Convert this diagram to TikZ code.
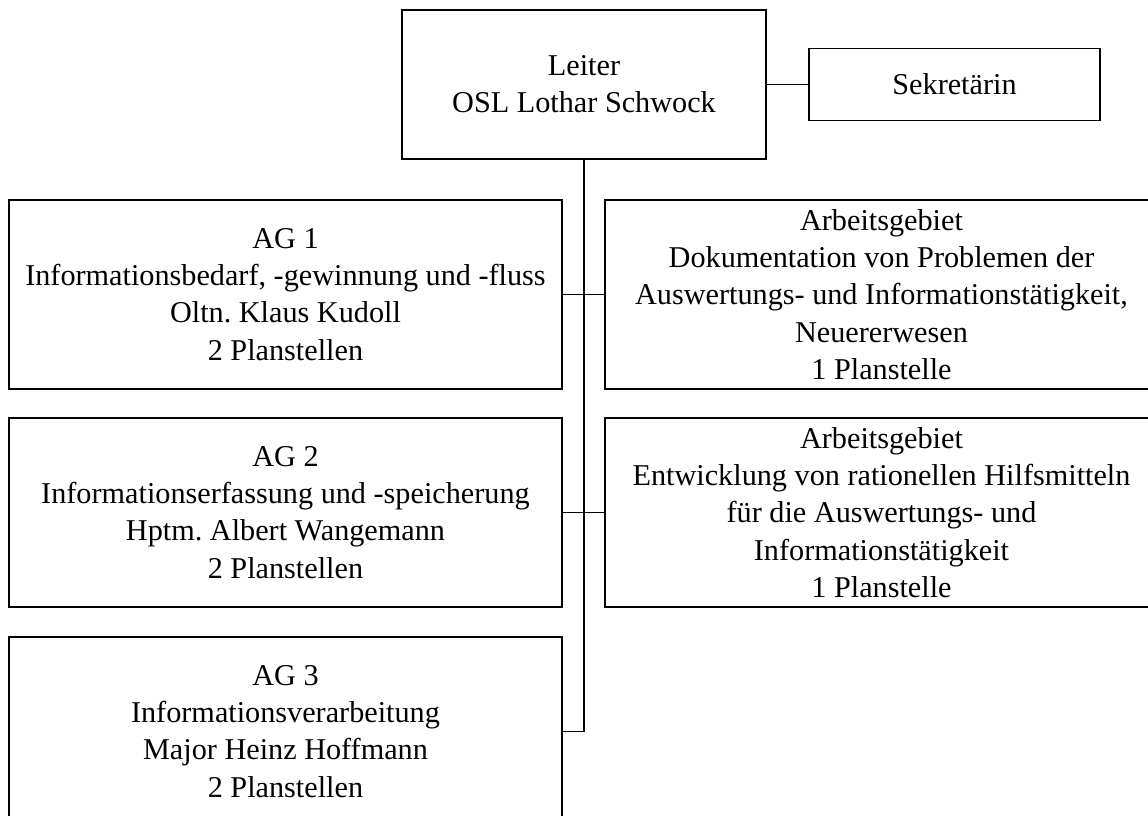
\documentclass[tikz,border=0pt]{standalone}
\usepackage{fontspec}
\setmainfont{Liberation Serif}
\usetikzlibrary{positioning}
\frenchspacing

\begin{document}
\begin{tikzpicture}[
  every node/.style={font=\fontsize{17.2}{21.2}\selectfont},
  unit/.style={draw, line width=1.1pt, align=center, inner sep=2pt,
               minimum width=11.06cm, minimum height=3.78cm},
  head/.style={draw, line width=1.1pt, align=center,
               minimum width=7.28cm, minimum height=2.98cm},
  link/.style={line width=1.1pt},
]
  \useasboundingbox (0,0) rectangle (22.96,-16.32);
  \clip (0,0) rectangle (22.96,-16.32);

  % Leitung
  \node[head] (leiter) at (11.68,-1.69) {Leiter\\OSL Lothar Schwock};
  \node[draw, line width=1.1pt, minimum width=5.82cm, minimum height=1.44cm]
    (sek) at (19.09,-1.69) {Sekretärin};

  % Arbeitsgruppen links
  \node[unit] (ag1) at (5.71,-5.89) {AG 1\\Informationsbedarf, -gewinnung und -fluss\\Oltn. Klaus Kudoll\\2 Planstellen};
  \node[unit] (ag2) at (5.71,-10.25) {AG 2\\Informationserfassung und -speicherung\\Hptm. Albert Wangemann\\2 Planstellen};
  \node[unit] (ag3) at (5.71,-14.63) {AG 3\\Informationsverarbeitung\\Major Heinz Hoffmann\\2 Planstellen};

  % Arbeitsgebiete rechts
  \node[unit] (doku) at (17.63,-5.89) {Arbeitsgebiet\\Dokumentation von Problemen der\\Auswertungs- und Informationstätigkeit,\\Neuererwesen\\1 Planstelle};
  \node[unit] (hilf) at (17.63,-10.25) {Arbeitsgebiet\\Entwicklung von rationellen Hilfsmitteln\\für die Auswertungs- und\\Informationstätigkeit\\1 Planstelle};

  % Verbindungen
  \draw[link] (leiter.east) -- (sek.west);
  \draw[link] (leiter.south) |- (ag3.east);
  \draw[link] (ag1.east) -- (doku.west);
  \draw[link] (ag2.east) -- (hilf.west);
\end{tikzpicture}
\end{document}
